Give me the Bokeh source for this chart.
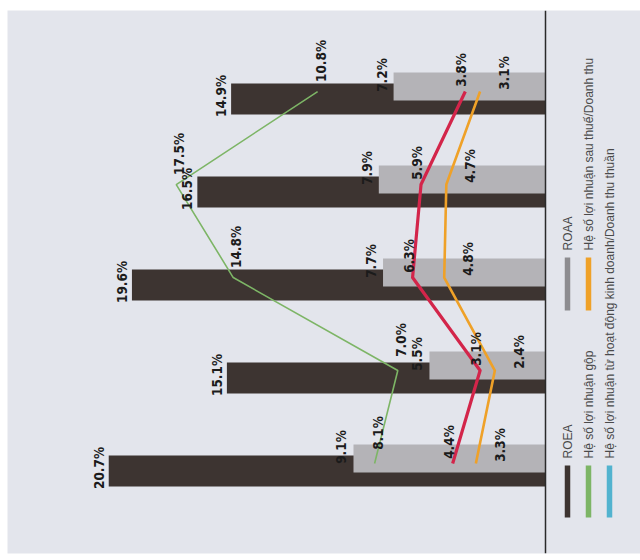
import numpy as np
from bokeh.plotting import figure
from bokeh.models import ColumnDataSource, Range1d, Span
from bokeh.core.properties import value
from bokeh.embed import file_html
from bokeh.resources import INLINE

# Five reporting periods, plotted as rotated (horizontal) groups
periods = [0, 1, 2, 3, 4]

roea = [20.7, 15.1, 19.6, 16.5, 14.9]
roaa = [9.1, 5.5, 7.7, 7.9, 7.2]
gross_margin = [8.1, 7.0, 14.8, 17.5, 10.8]
operating_margin = [4.4, 3.1, 6.3, 5.9, 3.8]
net_margin = [3.3, 2.4, 4.8, 4.7, 3.1]

legend_labels = [
    "ROEA",
    "ROAA",
    "Hệ số lợi nhuận gộp",
    "Hệ số lợi nhuận sau thuế/Doanh thu",
    "Hệ số lợi nhuận từ hoạt động kinh doanh/Doanh thu thuần",
]

DARK = "#3d3431"
GRAY = "#b4b3b7"
GRAY_KEY = "#8d8c90"
GREEN = "#7db566"
RED = "#d3254a"
ORANGE = "#efa128"
BLUE = "#52b3cf"
BG = "#e3e5ec"

# Layout: value axis runs right-to-left from the baseline, periods bottom-to-top
PX_PER_PCT = 21.1
BASE_PX = 545.0
PX_PER_PERIOD = 93.0
FIRST_PX = 470.5


def px_to_x(px):
    return (BASE_PX - px) / PX_PER_PCT


def px_to_y(py):
    return (FIRST_PX - py) / PX_PER_PERIOD


LEFT, TOP, BOTTOM = 7, 10, 7
W, H = 640, 560

p = figure(
    width=W, height=H,
    output_backend="svg", toolbar_location=None,
    x_range=Range1d(px_to_x(LEFT), px_to_x(W)),
    y_range=Range1d(px_to_y(H - BOTTOM), px_to_y(TOP)),
    x_axis_location=None, y_axis_location=None,
    min_border_left=LEFT, min_border_right=0,
    min_border_top=TOP, min_border_bottom=BOTTOM,
)
p.grid.visible = False
p.outline_line_color = None
p.background_fill_color = BG
p.border_fill_color = "white"

ang = np.pi / 2
label_font = value("DejaVu Sans Condensed")

# Bars
p.hbar(y=periods, left=0, right=roea, height=0.333, fill_color=DARK, line_color=None)
roaa_y = [i + 0.134 for i in periods]
p.hbar(y=roaa_y, left=0, right=roaa, height=0.30, fill_color=GRAY, line_color=None)

# Baseline
p.add_layout(Span(location=0, dimension="height", line_color="#2a2a2a", line_width=1.5))

# Margin lines
line_y = [i + 0.08 for i in periods]
p.line(x=gross_margin, y=line_y, line_color=GREEN, line_width=1.6)
p.line(x=operating_margin, y=line_y, line_color=RED, line_width=3.2, line_join="round")
p.line(x=net_margin, y=line_y, line_color=ORANGE, line_width=2.6, line_join="round")


def fmt(vals):
    return [f"{v:.1f}%" for v in vals]


def value_labels(vals, dx, dy):
    src = ColumnDataSource(dict(x=vals, y=periods, t=fmt(vals)))
    p.text(x="x", y="y", text="t", source=src, angle=ang,
           text_align="center", text_baseline="middle",
           x_offset=dx, y_offset=dy,
           text_font=label_font, text_font_style="bold",
           text_font_size="13.5px", text_color="#1b1b1b")


value_labels(roea, -10, -3)
value_labels(roaa, -12, -24)
value_labels(gross_margin, 3, -38)
value_labels(operating_margin, -4, -29)
value_labels(net_margin, 24, -26)

# Legend, rotated with the chart
key_cols = [567, 567, 588, 588, 609]
key_rows = [(465, 517, 458), (257, 310, 250), (465, 517, 458), (257, 310, 250), (465, 517, 458)]
key_colors = [DARK, GRAY_KEY, GREEN, ORANGE, BLUE]

kx = [px_to_x(c) for c in key_cols]
p.segment(x0=kx, x1=kx,
          y0=[px_to_y(r[0]) for r in key_rows], y1=[px_to_y(r[1]) for r in key_rows],
          line_color=key_colors, line_width=5.5)
key_src = ColumnDataSource(dict(x=kx, y=[px_to_y(r[2]) for r in key_rows], t=legend_labels))
p.text(x="x", y="y", text="t", source=key_src, angle=ang,
       text_align="left", text_baseline="middle",
       text_font=value("Liberation Sans"), text_font_size="12px", text_color="#4a4a4a")

open("out.html", "w").write(file_html(p, INLINE))
